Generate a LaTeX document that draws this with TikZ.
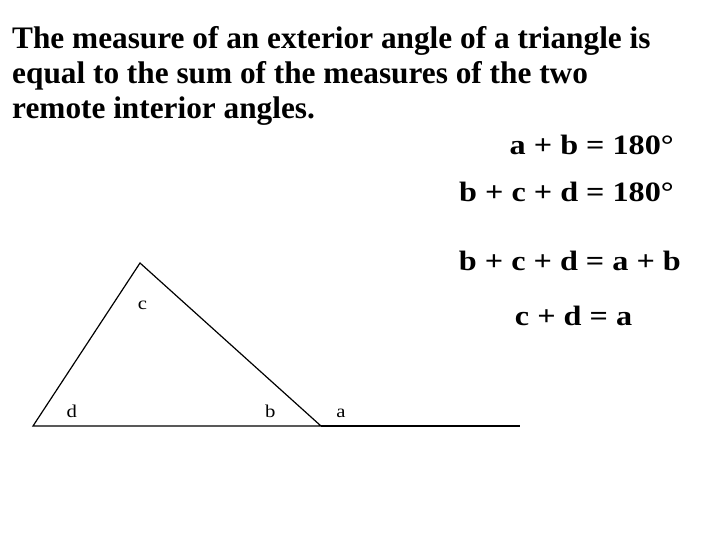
\documentclass[tikz,border=0pt]{standalone}
\usepackage{fontspec}
\setmainfont{Liberation Serif}
\newfontfamily\eqfont[FakeStretch=1.15]{Liberation Serif}
\tikzset{
  titletext/.style={anchor=base west, inner sep=0pt, font=\bfseries\fontsize{31.3}{33}\selectfont},
  eqtext/.style={inner sep=0pt, font=\eqfont\bfseries\fontsize{28}{30}\selectfont},
  anglelabel/.style={anchor=base, inner sep=0pt, font=\eqfont\fontsize{18}{20}\selectfont},
  edge/.style={line width=1.2pt, line join=miter}
}
\begin{document}
\begin{tikzpicture}[x=1pt,y=-1pt]
\useasboundingbox (0,0) rectangle (720,540);
% title
\node[titletext] (t1) at (12,48.5) {The measure of an exterior angle of a triangle is};
\node[titletext] (t2) at (12,84) {equal to the sum of the measures of the two};
\node[titletext] (t3) at (12,119) {remote interior angles.};
% equations
\node[eqtext, anchor=base east] (e1) at (674,155) {a + b = 180°};
\node[eqtext, anchor=base east] (e2) at (674,202) {b + c + d = 180°};
\node[eqtext, anchor=base east] (e3) at (681,270) {b + c + d = a + b};
\node[eqtext, anchor=base] (e4) at (573.5,325) {c + d = a};
% triangle
\coordinate (L) at (33,426);
\coordinate (T) at (140,263);
\coordinate (R) at (321,426);
\coordinate (E) at (520,426);
\draw[edge] (R) -- (L) -- (T) -- cycle;
\draw[edge] (R) -- (E);
% labels
\node[anglelabel] (lc) at (142.5,309.3) {c};
\node[anglelabel] (ld) at (71.7,417.3) {d};
\node[anglelabel] (lb) at (270.3,417.3) {b};
\node[anglelabel] (la) at (341,417.3) {a};
\end{tikzpicture}
\end{document}
